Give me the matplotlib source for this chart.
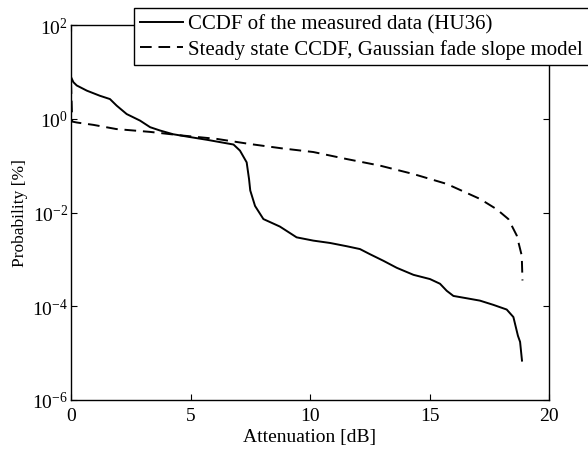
import numpy as np
import matplotlib
matplotlib.use('Agg')
import matplotlib.pyplot as plt
from matplotlib.ticker import FixedLocator, NullLocator

plt.rcParams['font.family'] = ['Liberation Serif', 'DejaVu Serif']
plt.rcParams['mathtext.fontset'] = 'custom'
plt.rcParams['mathtext.rm'] = 'Liberation Serif'
plt.rcParams['mathtext.it'] = 'Liberation Serif:italic'

# CCDF measurado (HU36): atenuacion [dB] y log10 de la probabilidad [%]
medida_x = [0.0, 0.0, 0.1, 0.24, 0.66, 1.21, 1.63, 1.91, 2.33, 2.89, 3.31,
            3.72, 4.27, 4.85, 5.7, 6.8, 7.07, 7.35, 7.45, 7.5, 7.7, 8.05,
            8.74, 9.44, 10.14, 10.84, 11.54, 12.09, 12.51, 13.07, 13.63,
            14.33, 15.02, 15.44, 15.72, 16.0, 16.56, 17.11, 17.67, 18.23,
            18.51, 18.7, 18.79, 18.87]
medida_log = [2.0, 0.89, 0.78, 0.71, 0.60, 0.49, 0.42, 0.28, 0.10, -0.04,
              -0.18, -0.25, -0.33, -0.38, -0.45, -0.55, -0.68, -0.93, -1.29,
              -1.53, -1.86, -2.14, -2.30, -2.53, -2.60, -2.65, -2.72, -2.78,
              -2.89, -3.03, -3.18, -3.33, -3.42, -3.52, -3.67, -3.78, -3.83,
              -3.88, -3.97, -4.07, -4.23, -4.63, -4.76, -5.16]

# modelo gaussiano de pendiente de desvanecimiento
modelo_x = [0.0, 0.05, 0.24, 0.93, 1.9, 3.3, 4.7, 6.1, 7.5, 8.8, 10.14,
            11.54, 12.93, 14.33, 15.72, 17.11, 17.81, 18.3, 18.65, 18.86, 18.89]
modelo_log = [0.78, -0.06, -0.08, -0.13, -0.22, -0.28, -0.36, -0.43, -0.54,
              -0.63, -0.71, -0.86, -1.0, -1.18, -1.39, -1.71, -1.93, -2.14,
              -2.49, -2.92, -3.45]

etiquetas = ['CCDF of the measured data (HU36)',
             'Steady state CCDF, Gaussian fade slope model']

fig = plt.figure(figsize=(5.88, 4.52), dpi=100)
ax = fig.add_axes([71/588, 1-401/452, 478/588, 375/452])

ax.semilogy(medida_x, 10**np.array(medida_log), 'k-', lw=1.4, label=etiquetas[0])
ax.semilogy(modelo_x, 10**np.array(modelo_log), 'k--', lw=1.4,
            dashes=(6, 3.5), label=etiquetas[1])

ax.set_xlim(0, 20)
ax.set_ylim(1e-6, 1e2)
ax.set_xticks([0, 5, 10, 15, 20])
ax.yaxis.set_major_locator(FixedLocator([1e-6, 1e-4, 1e-2, 1e0, 1e2]))
ax.yaxis.set_minor_locator(NullLocator())
ax.set_yticklabels([r'$10^{-6}$', r'$10^{-4}$', r'$10^{-2}$', r'$10^{0}$', r'$10^{2}$'])
ax.tick_params(direction='in', top=True, right=True, length=4, width=0.8,
               labelsize=14)
ax.tick_params(axis='y', pad=2)
ax.tick_params(axis='x', pad=5)
for s in ax.spines.values():
    s.set_linewidth(1.0)

ax.set_xlabel('Attenuation [dB]', fontsize=14, labelpad=3)
ax.set_ylabel('Probability [%]', fontsize=12.5, labelpad=3)

# la leyenda sobresale del borde derecho de la figura
leg = ax.legend(loc='upper left', bbox_to_anchor=(134/588, 1-9/452),
                bbox_transform=fig.transFigure, fontsize=15, frameon=True,
                fancybox=False, handlelength=2.05, handletextpad=0.22,
                borderpad=0.3, labelspacing=0.25, borderaxespad=0)
leg.get_frame().set_edgecolor('black')
leg.get_frame().set_linewidth(1.0)
leg.get_frame().set_alpha(1)

plt.savefig('out.png', dpi=100)
